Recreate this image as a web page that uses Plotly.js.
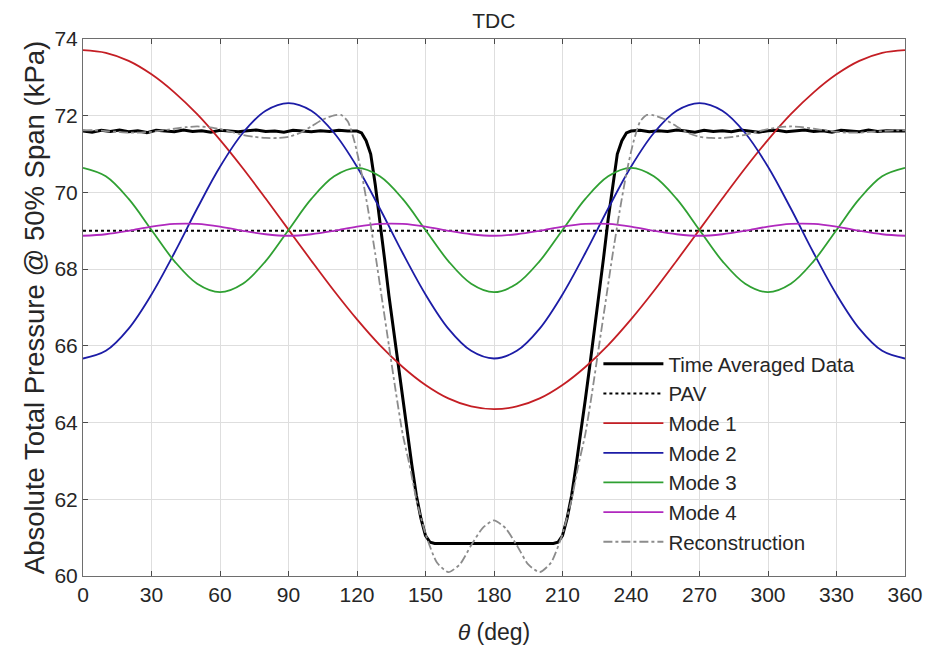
<!DOCTYPE html>
<html>
<head>
<meta charset="utf-8">
<script src="https://cdn.plot.ly/plotly-3.0.1.min.js"></script>
<style>html,body{margin:0;padding:0;background:#fff;}#chart{width:930px;height:658px;}</style>
</head>
<body>
<div id="chart"></div>
<script>
// ---- data ----
const xTicks = [0,30,60,90,120,150,180,210,240,270,300,330,360];
const yTicks = [60,62,64,66,68,70,72,74];

const modeTheta = [0,10,20,30,40,50,60,70,80,90,100,110,120,130,140,150,160,170,180,190,200,210,220,230,240,250,260,270,280,290,300,310,320,330,340,350,360];
const mode1 = [73.71,73.64,73.43,73.08,72.61,72.04,71.37,70.63,69.84,69.03,68.22,67.43,66.69,66.02,65.45,64.98,64.63,64.42,64.35,64.42,64.63,64.98,65.45,66.02,66.69,67.43,68.22,69.03,69.84,70.63,71.37,72.04,72.61,73.08,73.43,73.64,73.71];
const mode2 = [65.67,65.87,66.45,67.34,68.42,69.58,70.67,71.55,72.13,72.33,72.13,71.55,70.67,69.58,68.42,67.34,66.45,65.87,65.67,65.87,66.45,67.34,68.42,69.58,70.67,71.55,72.13,72.33,72.13,71.55,70.67,69.58,68.42,67.34,66.45,65.87,65.67];
const mode3 = [70.64,70.42,69.83,69.02,68.21,67.62,67.40,67.62,68.21,69.02,69.83,70.42,70.64,70.42,69.83,69.02,68.21,67.62,67.40,67.62,68.21,69.02,69.83,70.42,70.64,70.42,69.83,69.02,68.21,67.62,67.40,67.62,68.21,69.02,69.83,70.42,70.64];
const mode4 = [68.87,68.91,69.00,69.11,69.18,69.18,69.11,69.00,68.91,68.87,68.91,69.00,69.11,69.18,69.18,69.11,69.00,68.91,68.87,68.91,69.00,69.11,69.18,69.18,69.11,69.00,68.91,68.87,68.91,69.00,69.11,69.18,69.18,69.11,69.00,68.91,68.87];

const pavTheta = [0,360];
const pav = [69.0,69.0];

const tadTheta = [0,4,8,12,16,20,24,28,32,36,40,44,48,52,56,60,64,68,72,76,80,84,88,92,96,100,104,108,112,116,120,
  122,124,126,128,130,132,134,136,138,140,142,144,146,148,150,152,154,
  160,170,180,190,200,
  206,208,210,212,214,216,218,220,222,224,226,228,230,232,234,236,238,
  240,244,248,252,256,260,264,268,272,276,280,284,288,292,296,300,304,308,312,316,320,324,328,332,336,340,344,348,352,356,360];
const tad = [71.60,71.57,71.62,71.59,71.63,71.58,71.61,71.56,71.62,71.60,71.58,71.63,71.59,71.61,71.57,71.62,71.60,71.58,71.61,71.63,71.59,71.60,71.57,71.62,71.60,71.58,71.61,71.59,71.62,71.60,71.60,
  71.55,71.35,71.00,70.20,69.30,68.30,67.30,66.40,65.50,64.60,63.70,62.90,62.10,61.50,61.05,60.88,60.85,
  60.85,60.85,60.85,60.85,60.85,
  60.85,60.88,61.05,61.50,62.10,62.90,63.70,64.60,65.50,66.40,67.30,68.30,69.30,70.20,71.00,71.35,71.55,
  71.60,71.62,71.58,71.61,71.59,71.63,71.60,71.57,71.62,71.59,71.61,71.58,71.63,71.60,71.57,71.61,71.62,71.58,71.60,71.63,71.59,71.61,71.57,71.62,71.60,71.58,71.63,71.59,71.61,71.60,71.60];

const recTheta = [0,5,10,15,20,25,30,35,40,45,50,55,60,65,70,75,80,85,90,95,100,105,110,113,116,119,122,125,128,131,134,137,140,143,146,150,155,160,165,170,175,180,185,190,195,200,205,210,214,217,220,223,226,229,232,235,238,241,244,247,250,255,260,265,270,275,280,285,290,295,300,305,310,315,320,325,330,335,340,345,350,355,360];
const rec = [71.62,71.62,71.60,71.58,71.56,71.56,71.58,71.62,71.66,71.70,71.72,71.70,71.65,71.58,71.50,71.45,71.42,71.42,71.45,71.55,71.72,71.90,72.01,72.02,71.85,71.30,70.50,69.50,68.40,67.20,66.00,64.80,63.70,62.90,62.00,61.10,60.35,60.10,60.30,60.80,61.25,61.45,61.25,60.80,60.30,60.10,60.35,61.10,62.00,62.90,63.70,64.80,66.00,67.20,68.40,69.50,70.50,71.30,71.85,72.02,72.01,71.90,71.72,71.55,71.45,71.42,71.42,71.45,71.50,71.58,71.65,71.70,71.72,71.70,71.66,71.62,71.58,71.56,71.56,71.58,71.60,71.62,71.62];

// ---- chart ----
const traces = [
  {name:'Time Averaged Data', x:tadTheta, y:tad, mode:'lines', line:{color:'#000000', width:3}},
  {name:'PAV', x:pavTheta, y:pav, mode:'lines', line:{color:'#000000', width:2, dash:'dot'}},
  {name:'Mode 1', x:modeTheta, y:mode1, mode:'lines', line:{color:'#C41E24', width:1.8, shape:'spline'}},
  {name:'Mode 2', x:modeTheta, y:mode2, mode:'lines', line:{color:'#1C1CA6', width:1.8, shape:'spline'}},
  {name:'Mode 3', x:modeTheta, y:mode3, mode:'lines', line:{color:'#2FA032', width:1.8, shape:'spline'}},
  {name:'Mode 4', x:modeTheta, y:mode4, mode:'lines', line:{color:'#B028BE', width:1.8, shape:'spline'}},
  {name:'Reconstruction', x:recTheta, y:rec, mode:'lines', line:{color:'#8C8C8C', width:1.8, dash:'dashdot', shape:'spline', smoothing:0.6}}
];

const axisCommon = {
  showgrid:true, gridcolor:'#DEDEDE', gridwidth:1,
  showline:true, linecolor:'#6E6E6E', linewidth:1, mirror:'ticks',
  ticks:'inside', ticklen:5, tickcolor:'#4A4A4A', zeroline:false
};

const layout = {
  width:930, height:658,
  margin:{l:83, r:25, t:39, b:82},
  paper_bgcolor:'#ffffff', plot_bgcolor:'#ffffff',
  font:{family:'"Liberation Sans", Arial, sans-serif', color:'#262626'},
  title:{text:'TDC', x:0.531, xanchor:'center', y:0.969, yanchor:'middle', font:{size:21, color:'#262626'}},
  xaxis:Object.assign({}, axisCommon, {
    range:[0,360], tickmode:'array', tickvals:xTicks, ticktext:xTicks.map(String),
    tickfont:{size:21, color:'#262626'},
    title:{text:'<i>θ</i> (deg)', font:{size:23, color:'#262626'}, standoff:18}
  }),
  yaxis:Object.assign({}, axisCommon, {
    range:[60,74], tickmode:'array', tickvals:yTicks, ticktext:yTicks.map(String),
    tickfont:{size:21, color:'#262626'},
    title:{text:'Absolute Total Pressure @ 50% Span (kPa)', font:{size:27.5, color:'#262626'}, standoff:1}
  }),
  showlegend:true,
  legend:{x:0.627, y:0.432, xanchor:'left', yanchor:'top', bgcolor:'rgba(0,0,0,0)', borderwidth:0,
          font:{size:20.5, color:'#262626'}, itemwidth:60, tracegroupgap:0}
};

Plotly.newPlot('chart', traces, layout, {staticPlot:true, displayModeBar:false});
</script>
</body>
</html>
